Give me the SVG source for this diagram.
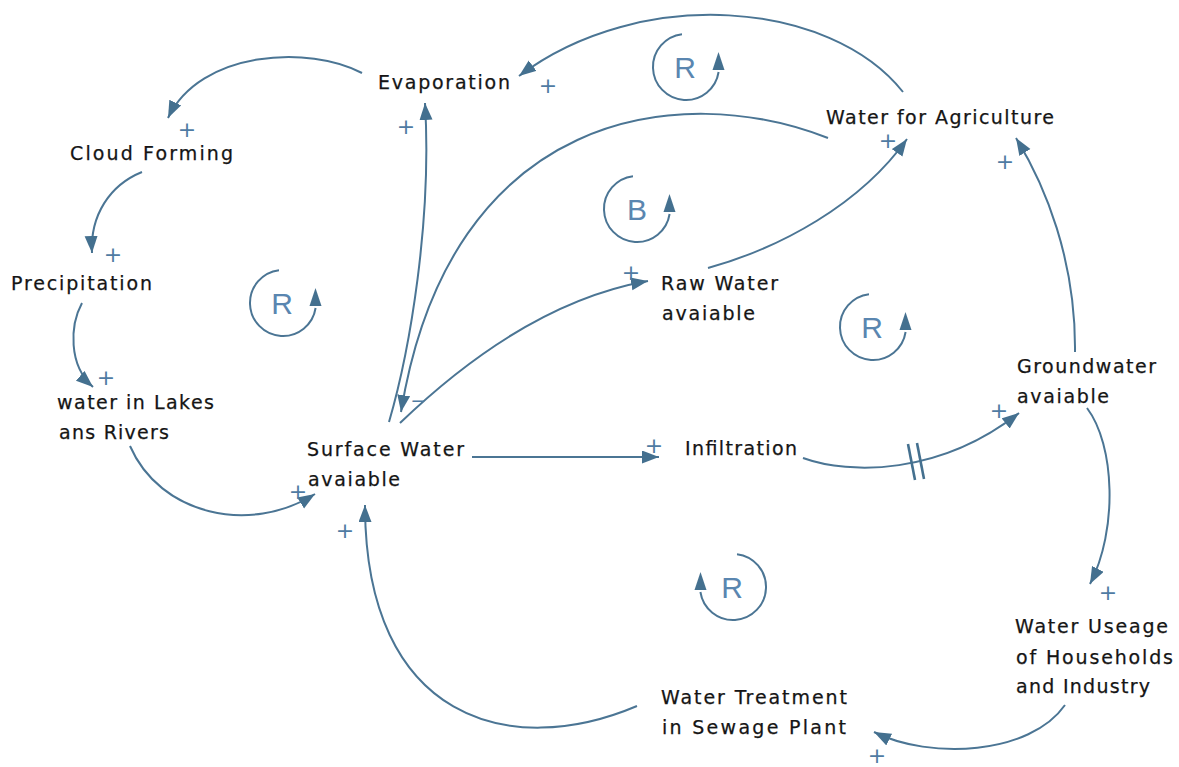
<svg xmlns="http://www.w3.org/2000/svg" width="1179" height="767" viewBox="0 0 1179 767">
<style>
.lbl{font-family:"DejaVu Sans","Liberation Sans",sans-serif;font-size:19px;fill:#151515;stroke:#151515;stroke-width:0.25px;}
.link{fill:none;stroke:#4b7594;stroke-width:2;marker-end:url(#arr);}
.pol{font-family:"DejaVu Sans","Liberation Sans",sans-serif;font-size:22px;fill:#4f7ba3;text-anchor:middle;}
.loop-arc{fill:none;stroke:#4b7594;stroke-width:2;}
.loop-head{fill:#44708f;}
.loop-txt{font-family:"Liberation Sans","DejaVu Sans",sans-serif;font-size:30px;fill:#5a86b0;text-anchor:middle;}
.delay{stroke:#44708f;stroke-width:2.6;}
</style>
<defs>
  <marker id="arr" markerUnits="userSpaceOnUse" markerWidth="18" markerHeight="14" refX="17" refY="6.5" orient="auto">
    <path d="M0,0 L17,6.5 L0,13 Z" fill="#44708f"/>
  </marker>
  <!-- loop indicator: open circle with an upward arrowhead on its right side -->
  <g id="loop">
    <path class="loop-arc" d="M-4,-32.8 A33,33 0 1 0 32.6,5"/>
    <path class="loop-head" d="M32.5,-15 L38.5,3 L26.5,3 Z"/>
  </g>
</defs>

<!-- causal links -->
<g id="connectors">
  <path class="link" d="M903,92 C830,0 640,-15 519,76"/>
  <path class="link" d="M362,73 C310,45 200,50 168,118"/>
  <path class="link" d="M142,172 C110,185 90,215 92,253"/>
  <path class="link" d="M82,303 C70,325 68,365 93,387"/>
  <path class="link" d="M130,446 C160,515 250,535 315,494"/>
  <path class="link" d="M637,706 C510,760 365,720 365,505"/>
  <path class="link" d="M1065,705 C1030,755 930,760 874,732"/>
  <path class="link" d="M1087,408 C1115,445 1118,530 1090,584"/>
  <path class="link" d="M1075,352 C1076,260 1045,185 1016,138"/>
  <path class="link" d="M803,458 C850,475 940,475 1019,413"/>
  <path class="link" d="M472,457 L659,457"/>
  <path class="link" d="M389,422 C410,350 432,220 425,103"/>
  <path class="link" d="M828,138 C680,80 450,110 401,412"/>
  <path class="link" d="M400,423 C450,375 540,300 648,281"/>
  <path class="link" d="M708,268 C780,248 860,205 907,139"/>
  <!-- delay mark on the infiltration link -->
  <line class="delay" x1="908" y1="444" x2="915" y2="480"/>
  <line class="delay" x1="917" y1="443" x2="924" y2="479"/>
  <!-- polarities -->
  <text class="pol" x="548" y="93">+</text>
  <text class="pol" x="406" y="134">+</text>
  <text class="pol" x="187" y="137">+</text>
  <text class="pol" x="113" y="262">+</text>
  <text class="pol" x="106" y="385">+</text>
  <text class="pol" x="298" y="499">+</text>
  <text class="pol" x="345" y="538">+</text>
  <text class="pol" x="654" y="453">+</text>
  <text class="pol" x="631" y="280">+</text>
  <text class="pol" x="888" y="148">+</text>
  <text class="pol" x="1005" y="169">+</text>
  <text class="pol" x="999" y="418">+</text>
  <text class="pol" x="1108" y="600">+</text>
  <text class="pol" x="877" y="763">+</text>
  <text class="pol" x="418" y="407" style="font-size:18px">−</text>
</g>

<!-- loop identifiers -->
<g id="loops">
  <use href="#loop" transform="translate(686,67)"/>
  <text class="loop-txt" x="685" y="78">R</text>
  <use href="#loop" transform="translate(637,209)"/>
  <text class="loop-txt" x="637" y="220">B</text>
  <use href="#loop" transform="translate(283,303)"/>
  <text class="loop-txt" x="282" y="314">R</text>
  <use href="#loop" transform="translate(873,327)"/>
  <text class="loop-txt" x="872" y="338">R</text>
  <use href="#loop" transform="translate(733,587) scale(-1,1)"/>
  <text class="loop-txt" x="732" y="598">R</text>
</g>

<!-- variables -->
<g id="evaporation"><text class="lbl" x="378" y="89" textLength="132" lengthAdjust="spacing">Evaporation</text></g>
<g id="cloud-forming"><text class="lbl" x="70" y="160" textLength="163" lengthAdjust="spacing">Cloud Forming</text></g>
<g id="precipitation"><text class="lbl" x="11" y="290" textLength="141" lengthAdjust="spacing">Precipitation</text></g>
<g id="lakes-rivers">
  <text class="lbl" x="57" y="409" textLength="157" lengthAdjust="spacing">water in Lakes</text>
  <text class="lbl" x="59" y="439" textLength="110" lengthAdjust="spacing">ans Rivers</text>
</g>
<g id="surface-water">
  <text class="lbl" x="307" y="456" textLength="157" lengthAdjust="spacing">Surface Water</text>
  <text class="lbl" x="308" y="486" textLength="92" lengthAdjust="spacing">avaiable</text>
</g>
<g id="raw-water">
  <text class="lbl" x="661" y="290" textLength="117" lengthAdjust="spacing">Raw Water</text>
  <text class="lbl" x="662" y="320" textLength="93" lengthAdjust="spacing">avaiable</text>
</g>
<g id="water-agriculture"><text class="lbl" x="826" y="124" textLength="228" lengthAdjust="spacing">Water for Agriculture</text></g>
<g id="infiltration"><text class="lbl" x="685" y="455" textLength="112" lengthAdjust="spacing">Infiltration</text></g>
<g id="groundwater">
  <text class="lbl" x="1017" y="373" textLength="139" lengthAdjust="spacing">Groundwater</text>
  <text class="lbl" x="1017" y="403" textLength="92" lengthAdjust="spacing">avaiable</text>
</g>
<g id="water-useage">
  <text class="lbl" x="1015" y="633" textLength="153" lengthAdjust="spacing">Water Useage</text>
  <text class="lbl" x="1016" y="664" textLength="157" lengthAdjust="spacing">of Households</text>
  <text class="lbl" x="1016" y="693" textLength="134" lengthAdjust="spacing">and Industry</text>
</g>
<g id="water-treatment">
  <text class="lbl" x="661" y="704" textLength="186" lengthAdjust="spacing">Water Treatment</text>
  <text class="lbl" x="662" y="734" textLength="184" lengthAdjust="spacing">in Sewage Plant</text>
</g>
</svg>
